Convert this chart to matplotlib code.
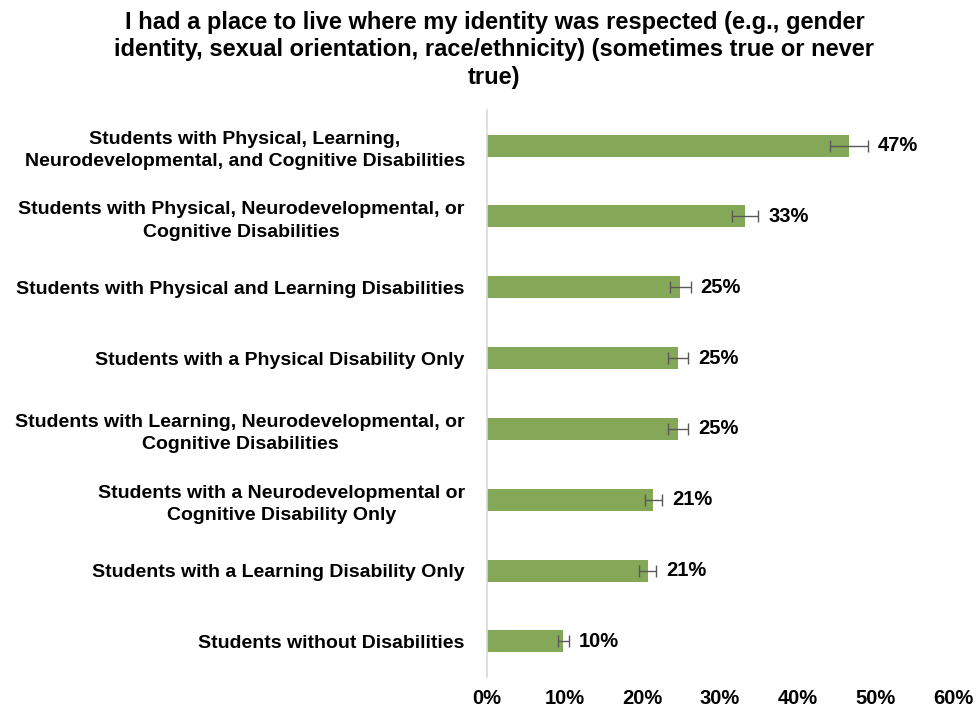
import matplotlib
matplotlib.use("Agg")
import matplotlib.pyplot as plt
import numpy as np

plt.rcParams["font.family"] = ["Liberation Sans", "DejaVu Sans"]

# categories listed top to bottom
categories = [
    "Students with Physical, Learning,\nNeurodevelopmental, and Cognitive Disabilities",
    "Students with Physical, Neurodevelopmental, or\nCognitive Disabilities",
    "Students with Physical and Learning Disabilities",
    "Students with a Physical Disability Only",
    "Students with Learning, Neurodevelopmental, or\nCognitive Disabilities",
    "Students with a Neurodevelopmental or\nCognitive Disability Only",
    "Students with a Learning Disability Only",
    "Students without Disabilities",
]
values = [46.6, 33.2, 24.9, 24.6, 24.6, 21.4, 20.7, 9.8]
errors = [2.4, 1.7, 1.3, 1.3, 1.3, 1.1, 1.1, 0.7]
value_labels = ["47%", "33%", "25%", "25%", "25%", "21%", "21%", "10%"]

title = ("I had a place to live where my identity was respected (e.g., gender\n"
         "identity, sexual orientation, race/ethnicity) (sometimes true or never\n"
         "true)")

fig = plt.figure(figsize=(9.79, 7.11), dpi=100)
ax = fig.add_axes([0.4975, 0.048, 0.476, 0.797])

y = np.arange(len(categories))
ax.barh(y, values, height=0.31, color="#84A857",
        xerr=errors, error_kw={"ecolor": "#595959", "elinewidth": 1.0,
                               "capsize": 4, "capthick": 1.0})
for yi, v, e, lab in zip(y, values, errors, value_labels):
    ax.text(v + e + 1.3, yi, lab, va="center", ha="left",
            fontsize=14.5, fontweight="bold", color="#000000")

ax.set_ylim(len(categories) - 0.5, -0.5)
ax.set_xlim(0, 60)
ax.set_xticks(np.arange(0, 61, 10))
ax.set_xticklabels([f"{t}%" for t in range(0, 61, 10)],
                   fontsize=14.5, fontweight="bold")
ax.set_yticks(y)
ax.set_yticklabels(categories, fontsize=14, fontweight="bold",
                   multialignment="center", linespacing=1.4)
ax.tick_params(axis="both", length=0)
ax.tick_params(axis="y", pad=16)
ax.tick_params(axis="x", pad=9)

for side in ["top", "right", "bottom"]:
    ax.spines[side].set_visible(False)
ax.spines["left"].set_color("#d9d9d9")
ax.spines["left"].set_linewidth(1.2)

fig.text(0.505, 0.985, title, ha="center", va="top", fontsize=17,
         fontweight="bold", linespacing=1.25)

fig.savefig("out.png", dpi=100)
